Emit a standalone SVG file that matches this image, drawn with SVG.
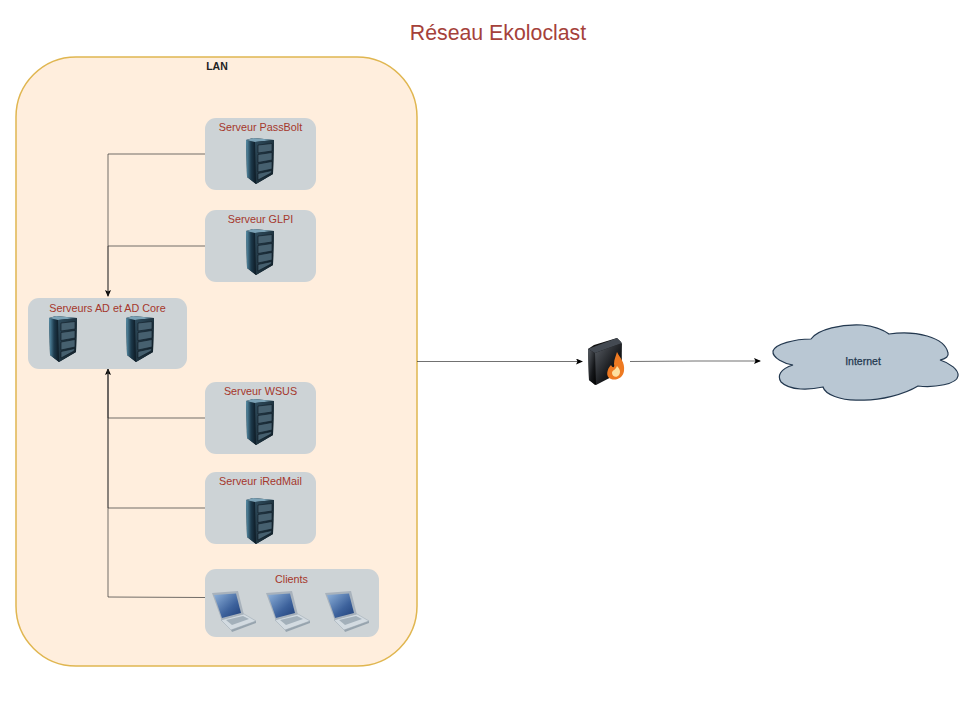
<svg xmlns="http://www.w3.org/2000/svg" width="976" height="707" viewBox="0 0 976 707">
<style>
text{font-family:"Liberation Sans",Arial,sans-serif;text-anchor:middle}
.box{fill:#cdd3d6}
.lbl{font-size:10.800px;fill:#a5372c}
.c{fill:none;stroke:#333;stroke-width:.7}
</style>
<defs>
<marker id="a" markerWidth="7" markerHeight="6" refX="6" refY="3" orient="auto" markerUnits="userSpaceOnUse"><path d="M0 0L7 3L0 6L1.500 3Z" fill="#000"/></marker>
<linearGradient id="sf" x1="0" x2="1" y1="0" y2="0"><stop offset="0" stop-color="#5b93ad"/><stop offset=".5" stop-color="#1d3a4c"/><stop offset="1" stop-color="#0d1a24"/></linearGradient>
<linearGradient id="sr" x1="0" x2="1" y1="0" y2="1"><stop offset="0" stop-color="#2f4c5d"/><stop offset="1" stop-color="#101d25"/></linearGradient>
<linearGradient id="scr" x1="0" x2="1" y1="0" y2="1"><stop offset="0" stop-color="#8fb2da"/><stop offset=".6" stop-color="#3d629c"/><stop offset="1" stop-color="#1f3f78"/></linearGradient>
<linearGradient id="fw" x1="0" x2="1" y1="0" y2="1"><stop offset="0" stop-color="#5a5f66"/><stop offset=".6" stop-color="#15171a"/><stop offset="1" stop-color="#000"/></linearGradient>
<g id="srv">
<path d="M1 2L8 0L29 2L28 36L11 46L2 39Z" fill="#11202a"/>
<path d="M1 2L10 4L11 46L2 39Z" fill="url(#sf)"/>
<path d="M1 2L8 0L29 2L10 4Z" fill="#7ba2b6"/>
<path d="M10 4L29 2L28 36L11 46Z" fill="url(#sr)"/>
<path d="M13 7L27 5.500V13L13 15ZM13 16.500L27 14.500V22L13 24.500ZM13 26L27 23.500V31L13 34ZM13 35.500L27 32.500L26 35L13 42Z" fill="#46606f" stroke="#0d1a24" stroke-width=".6"/>
</g>
<g id="lap">
<path d="M1 3L27 1L33 25L11 31Z" fill="#a8b2bc"/>
<path d="M3 5L25 3.500L30 23L11 28Z" fill="url(#scr)"/>
<path d="M10 30L33 24L45 31L20 40Z" fill="#d3dbe1" stroke="#9aa7b1" stroke-width=".5"/>
<path d="M15 30L32 26L38 29L21 35Z" fill="#a3b0ba"/>
<path d="M20 40L45 31V33L21 42Z" fill="#97a4ae"/>
</g>
</defs>
<text x="498" y="40" style="font-size:21.300px;fill:#a5413a">Réseau Ekoloclast</text>
<g id="lan">
<rect x="16" y="57" width="401" height="609" rx="60" fill="#ffeedd" stroke="#e0b650" stroke-width="1.500"/>
<text x="217" y="70" style="font-size:10.500px;font-weight:bold;fill:#222">LAN</text>
</g>
<g id="connectors">
<path class="c" d="M205 154H108V296" marker-end="url(#a)"/>
<path class="c" d="M205 246H108V296"/>
<path class="c" d="M205 418H108V369" marker-end="url(#a)"/>
<path class="c" d="M205 508H108V369"/>
<path class="c" d="M205 597.500L108 597V369"/>
<path class="c" d="M417 361.500H582" marker-end="url(#a)"/>
<path class="c" d="M630 361.500L695 361H760" marker-end="url(#a)"/>
</g>
<g id="passbolt"><rect class="box" x="205" y="118" width="111" height="72" rx="11"/><text class="lbl" x="260.500" y="131">Serveur PassBolt</text><use href="#srv" x="245" y="138"/></g>
<g id="glpi"><rect class="box" x="205" y="210" width="111" height="72" rx="11"/><text class="lbl" x="260.500" y="223">Serveur GLPI</text><use href="#srv" x="245" y="229"/></g>
<g id="ad"><rect class="box" x="28" y="298" width="159" height="71" rx="11"/><text class="lbl" x="107.500" y="312">Serveurs AD et AD Core</text><use href="#srv" x="48" y="316"/><use href="#srv" x="125" y="316"/></g>
<g id="wsus"><rect class="box" x="205" y="382" width="111" height="72" rx="11"/><text class="lbl" x="260.500" y="395">Serveur WSUS</text><use href="#srv" x="245" y="399"/></g>
<g id="iredmail"><rect class="box" x="205" y="472" width="111" height="72" rx="11"/><text class="lbl" x="260.500" y="485">Serveur iRedMail</text><use href="#srv" x="245" y="498"/></g>
<g id="clients"><rect class="box" x="205" y="569" width="174" height="68" rx="11"/><text class="lbl" x="291.500" y="583">Clients</text><use href="#lap" x="211" y="590"/><use href="#lap" x="265" y="590"/><use href="#lap" x="324" y="590"/></g>
<g id="firewall">
<path d="M588 349L594 345L617 338L621 342L622 368L595 385L589 380Z" fill="#111"/>
<path d="M588 349L595 353L596 385L589 380Z" fill="url(#fw)"/>
<path d="M595 353L622 343L621 372L596 385Z" fill="url(#fw)"/>
<path d="M588 349L617 338L622 343L595 353Z" fill="#444a52"/>
<path d="M617 352C620 358 625 362 624 371C623 378 616 381 611 379C605 377 607 369 611 365C613 369 615 367 614 364C614 359 616 356 617 352Z" fill="#ee7a22"/>
<path d="M617 366C620 369 621 372 619 375C617 378 612 377 612 373C612 370 616 370 617 366Z" fill="#fde0a0"/>
</g>
<g id="internet">
<path d="M773 351C775 344 795 339 811 339C818 329 842 324 862 325C875 326 885 331 889 334C915 330 945 337 948 353C949 356 946 359 940 360C950 363 959 370 958 376C957 384 935 388 918 386C905 394 880 401 860 400C840 401 825 394 823 387C810 390 790 391 781 382C777 376 780 369 793 365C785 364 772 358 773 351Z" fill="#b9c7d3" stroke="#23384f" stroke-width="1.200"/>
<text x="863" y="365" style="font-size:10.500px;fill:#23384f;stroke:#23384f;stroke-width:.25">Internet</text>
</g>
</svg>
